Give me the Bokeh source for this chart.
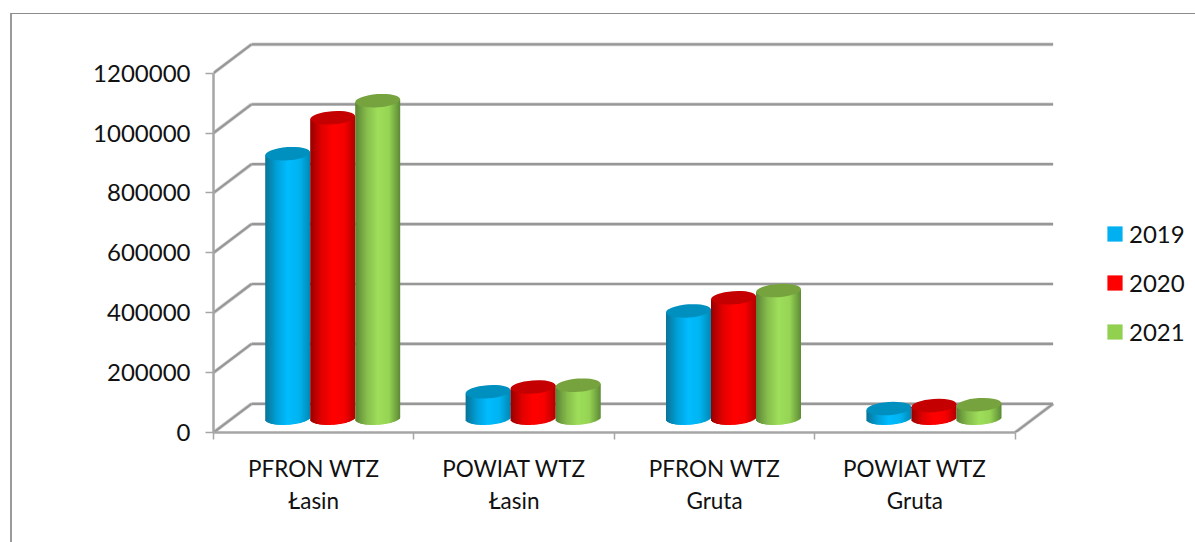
import math
from bokeh.plotting import figure
from bokeh.models import Range1d, LinearAxis, FixedTicker, Legend, LegendItem, InlineStyleSheet
from bokeh.embed import file_html
from bokeh.resources import INLINE

categories = ["PFRON WTZ\nŁasin", "POWIAT WTZ\nŁasin", "PFRON WTZ\nGruta", "POWIAT WTZ\nGruta"]
series_names = ["2019", "2020", "2021"]
values_2019 = [883000, 88000, 358000, 32000]
values_2020 = [1003000, 104000, 402000, 42000]
values_2021 = [1060000, 110000, 426000, 45000]
y_ticks = [0, 200000, 400000, 600000, 800000, 1000000, 1200000]
series_values = [values_2019, values_2020, values_2021]

legend_colors = ["#00B0F0", "#FF0000", "#92D050"]
top_colors = ["#0090BF", "#C40000", "#76A33D"]
shades = [["#0A7396", "#00A0D8", "#00BCFF", "#00B4F0", "#0088B4"],
          ["#960000", "#E00000", "#FF0000", "#F80000", "#B40000"],
          ["#5B8434", "#86BC4C", "#9EDE5A", "#96D454", "#5E8A36"]]

# layout, in pixels of the picture
PX_SLOT, PX_VALUE = 200.4, 59.9 / 200000
DEPTH_X, DEPTH_Y = 38.0, 28.7
FRAME_W, FRAME_H = 982, 402
BAR_W = 45.0 / PX_SLOT
BAR_RY = 6.6 / PX_VALUE
TILT = 0.07
dx = DEPTH_X / PX_SLOT
dy = DEPTH_Y / PX_VALUE

border_css = InlineStyleSheet(css=""":host::after {content:""; position:absolute; left:10px; top:13px;
  right:0; bottom:0; border-left:2px solid #9A9A9A; border-top:1.5px solid #8C8C8C; pointer-events:none;}""")

p = figure(width=1195, height=542, output_backend="svg", toolbar_location=None,
           x_range=Range1d(0, FRAME_W / PX_SLOT), y_range=Range1d(0, FRAME_H / PX_VALUE),
           min_border_left=213, min_border_right=0, min_border_top=30, min_border_bottom=110,
           x_axis_type=None, y_axis_type=None, outline_line_color=None,
           stylesheets=[border_css])
p.grid.visible = False

FONT = "Lato"
SIZE = "24px"
CAT_SIZE = "22.5px"

n_cat = len(categories)
# walls and floor: a soft halo under a darker core
for color, width in (("#D4D4D4", 3.6), ("#979797", 2.2)):
    p.segment(x0=[dx] * len(y_ticks), x1=[n_cat + dx] * len(y_ticks),
              y0=[t + dy for t in y_ticks], y1=[t + dy for t in y_ticks],
              line_color=color, line_width=width)
    p.segment(x0=[0] * len(y_ticks), x1=[dx] * len(y_ticks),
              y0=y_ticks, y1=[t + dy for t in y_ticks], line_color=color, line_width=width)
    p.segment(x0=[n_cat], x1=[n_cat + dx], y0=[0], y1=[dy], line_color=color, line_width=width)


def hex_rgb(h):
    return [int(h[i:i + 2], 16) for i in (1, 3, 5)]


def shade(stops, u):
    pos = u * (len(stops) - 1)
    i = min(int(pos), len(stops) - 2)
    a, b = hex_rgb(stops[i]), hex_rgb(stops[i + 1])
    f = pos - i
    return "#%02x%02x%02x" % tuple(round(a[k] + (b[k] - a[k]) * f) for k in range(3))


N = 45
tilt_y = TILT * (45.0 / 2) / PX_VALUE
for c in range(n_cat):
    for s in range(len(series_values)):
        v = series_values[s][c]
        cx = c + 0.5 + dx / 2 + (s - 1) * BAR_W
        base = dy / 2
        left, right, top, bottom, colors = [], [], [], [], []
        for i in range(N):
            u0, u1 = i / N, (i + 1) / N
            t = 2 * (u0 + u1) / 2 - 1
            left.append(cx + (u0 - 0.5) * BAR_W)
            right.append(cx + (u1 - 0.5) * BAR_W + (0.8 if i < N - 1 else 0) / PX_SLOT)
            top.append(v + base + tilt_y * t)
            bottom.append(base + tilt_y * t - BAR_RY * math.sqrt(max(0, 1 - t * t)))
            colors.append(shade(shades[s], (u0 + u1) / 2))
        p.quad(left=left, right=right, top=top, bottom=bottom, fill_color=colors, line_color=None)
        p.ellipse(x=[cx], y=[v + base], width=BAR_W, height=2 * BAR_RY, angle=TILT,
                  fill_color=top_colors[s], line_color=None)

# axes
y_axis = LinearAxis(ticker=FixedTicker(ticks=y_ticks), bounds=(0, y_ticks[-1]),
                    axis_line_color="#A6A6A6", axis_line_width=2.5,
                    major_tick_line_color="#A6A6A6", major_tick_line_width=1.5,
                    major_tick_in=0, major_tick_out=8, minor_tick_out=0, minor_tick_in=0,
                    major_label_standoff=15, major_label_text_font=FONT,
                    major_label_text_font_size=SIZE, major_label_text_color="#111111")
y_axis.formatter.use_scientific = False
p.add_layout(y_axis, "left")

mids = [i + 0.5 for i in range(n_cat)]
x_axis = LinearAxis(ticker=FixedTicker(ticks=mids, minor_ticks=list(range(n_cat + 1))),
                    bounds=(0, n_cat), axis_line_color="#A6A6A6", axis_line_width=2.5,
                    major_tick_in=0, major_tick_out=0, minor_tick_in=0, minor_tick_out=7,
                    minor_tick_line_color="#A6A6A6", minor_tick_line_width=1.5,
                    major_label_overrides={m: t for m, t in zip(mids, categories)},
                    major_label_standoff=15, major_label_text_font=FONT,
                    major_label_text_font_size=CAT_SIZE, major_label_text_color="#111111")
p.add_layout(x_axis, "below")

# legend
nan = float("nan")
items = []
for name, col in zip(series_names, legend_colors):
    r = p.quad(left=[nan], right=[nan], top=[nan], bottom=[nan], fill_color=col, line_color=None)
    items.append(LegendItem(label=name, renderers=[r]))
legend = Legend(items=items, location=(892, 86), orientation="vertical", spacing=20,
                glyph_width=19, glyph_height=19, label_standoff=5, padding=0, margin=0,
                border_line_color=None, background_fill_color=None,
                label_text_font=FONT, label_text_font_size=SIZE, label_text_color="#111111")
p.add_layout(legend)

open("out.html", "w").write(file_html(p, INLINE))
